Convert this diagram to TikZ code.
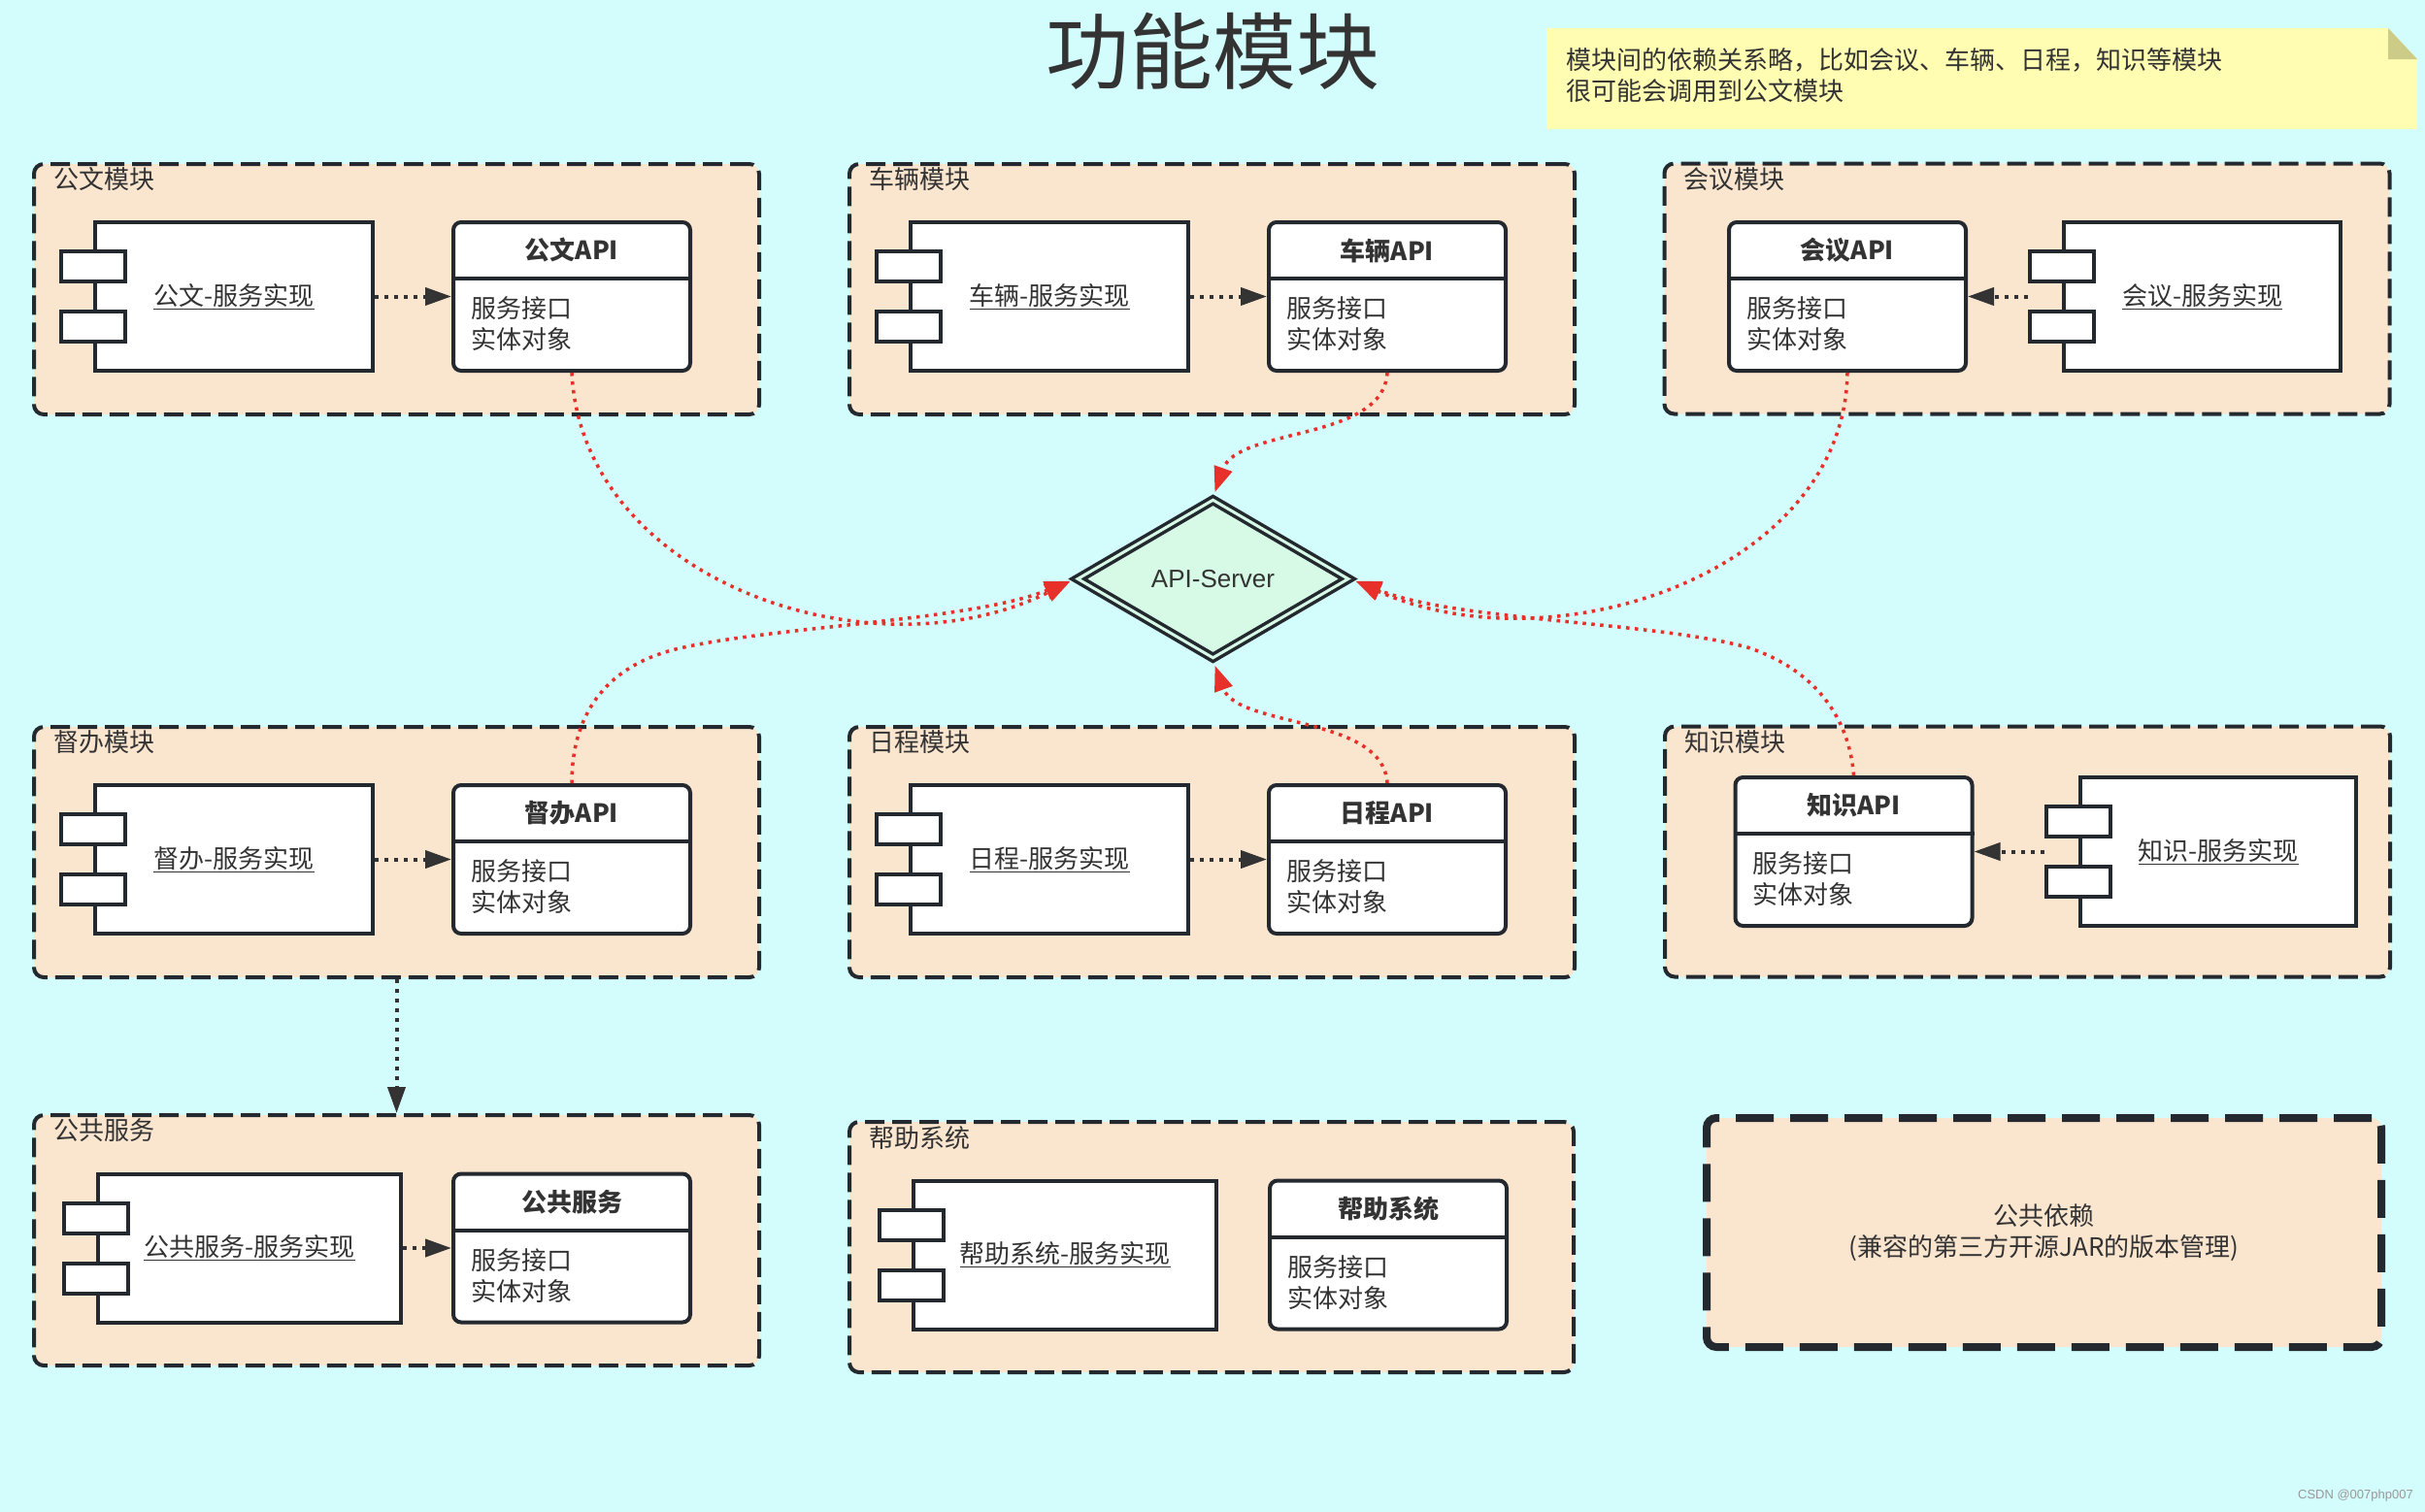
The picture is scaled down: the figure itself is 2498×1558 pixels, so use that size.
\documentclass[tikz,border=0pt]{standalone}
\usepackage{fontspec}
\setmainfont{Noto Sans CJK SC}
\newfontfamily\arialfont{Liberation Sans}
\usepackage{tikz}
\usetikzlibrary{arrows.meta,calc,shapes.geometric}
\usepackage{xcolor}
\definecolor{bgc}{HTML}{D3FCFC}
\definecolor{peach}{HTML}{FAE5CF}
\definecolor{linec}{HTML}{23292F}
\definecolor{txt}{HTML}{333333}
\definecolor{redc}{HTML}{E8302A}
\definecolor{mint}{HTML}{D6FAE6}
\definecolor{notec}{HTML}{FFFDB2}
\definecolor{foldc}{HTML}{CCCB87}
\newcommand{\diagfont}{\fontsize{26pt}{32pt}\selectfont}

\begin{document}
\begin{tikzpicture}[x=1pt,y=1pt,>=Stealth,
  grp/.style={draw=linec, fill=peach, line width=4pt, dash pattern=on 20pt off 8pt, rounded corners=10pt, minimum width=747pt, minimum height=258pt},
  grplabel/.style={anchor=west, inner sep=0pt, font=\diagfont, text=txt},
  comp/.style={draw=linec, fill=white, line width=4pt, minimum width=286pt, minimum height=153pt, font=\diagfont, text=txt},
  port/.style={draw=linec, fill=white, line width=4pt, minimum width=66pt, minimum height=31pt, inner sep=0pt},
  api/.style={draw=linec, fill=white, line width=4pt, rounded corners=8pt, minimum width=244pt, minimum height=153pt},
  dep/.style={draw=txt, line width=4pt, dash pattern=on 4pt off 6pt, -{Triangle[length=27pt,width=18pt]}},
  call/.style={draw=redc, line width=3.5pt, dash pattern=on 3.5pt off 5.5pt, -{Triangle[length=26pt,width=19pt]}, shorten >=6pt}]
  \fill[bgc] (0,0) rectangle (2498,-1558);
  \useasboundingbox (0,0) rectangle (2498,-1558);
  \node[font=\fontsize{86pt}{90pt}\selectfont, text=txt] (title) at (1249,-53) {功能模块};
  % sticky note
  \fill[notec] (1593,-29) -- (2460,-29) -- (2490,-61) -- (2490,-133) -- (1593,-133) -- cycle;
  \fill[foldc] (2460,-29) -- (2490,-61) -- (2460,-61) -- cycle;
  \node[anchor=west, align=left, inner sep=0pt, font=\diagfont, text=txt] (note) at (1613,-78) {模块间的依赖关系略，比如会议、车辆、日程，知识等模块\\很可能会调用到公文模块};

  % modules: component left, API right
  \foreach \k/\ox/\oy/\gname/\cname in {1/35/169/公文模块/公文-服务实现, 2/875/169/车辆模块/车辆-服务实现, 4/35/749/督办模块/督办-服务实现, 5/875/749/日程模块/日程-服务实现} {
    \node[grp] (g\k) at (\ox+373.5,-\oy-129) {};
    \node[grplabel] (l\k) at (\ox+20,-\oy-16) {\gname};
    \node[comp] (c\k) at (\ox+206,-\oy-136.5) {\underline{\cname}};
    \node[api] (a\k) at (\ox+554,-\oy-136.5) {};
  }
  % modules: API left, component right
  \node[grp] (g3) at (2088,-297.5) {};
  \node[grplabel] (l3) at (1734,-185) {会议模块};
  \node[api] (a3) at (1903,-305.5) {};
  \node[comp, minimum width=285pt] (c3) at (2268.5,-305.5) {\underline{会议-服务实现}};
  \node[grp] (g6) at (2088.5,-877.5) {};
  \node[grplabel] (l6) at (1735,-765) {知识模块};
  \node[api] (a6) at (1909.5,-877.5) {};
  \node[comp, minimum width=284pt] (c6) at (2285,-877.5) {\underline{知识-服务实现}};
  % bottom row
  \node[grp] (g7) at (408.5,-1278) {};
  \node[grplabel] (l7) at (55,-1165) {公共服务};
  \node[comp, minimum width=312pt] (c7) at (257,-1286) {\underline{公共服务-服务实现}};
  \node[api] (a7) at (589,-1286) {};
  \node[grp, minimum width=746pt] (g8) at (1248,-1285) {};
  \node[grplabel] (l8) at (895,-1173) {帮助系统};
  \node[comp, minimum width=312pt] (c8) at (1097,-1293) {\underline{帮助系统-服务实现}};
  \node[api] (a8) at (1430,-1293) {};
  \node[draw=linec, fill=peach, line width=8pt, dash pattern=on 39pt off 17pt, rounded corners=10pt, minimum width=695pt, minimum height=236pt, align=center, font=\diagfont, text=txt] (g9) at (2105.5,-1270) {公共依赖\\(兼容的第三方开源JAR的版本管理)};

  % ports and API compartments
  \foreach \k in {1,...,8} {
    \node[port] (pa\k) at ([yshift=31pt]c\k.west) {};
    \node[port] (pb\k) at ([yshift=-31pt]c\k.west) {};
  }
  \foreach \k/\t in {1/公文API, 2/车辆API, 3/会议API, 4/督办API, 5/日程API, 6/知识API, 7/公共服务, 8/帮助系统} {
    \draw[linec, line width=4pt] ([yshift=-60pt]a\k.north west) -- ([yshift=-60pt]a\k.north east);
    \node[font=\diagfont\bfseries, text=txt] (t\k) at ([yshift=-31pt]a\k.north) {\t};
    \node[anchor=west, align=left, inner sep=0pt, font=\diagfont, text=txt] (b\k) at ([shift={(20pt,-107pt)}]a\k.north west) {服务接口\\实体对象};
  }

  % dependencies
  \draw[dep] (c1.east) -- (a1.west);
  \draw[dep] (c2.east) -- (a2.west);
  \draw[dep] (pa3.west |- c3.west) -- (a3.east);
  \draw[dep] (c4.east) -- (a4.west);
  \draw[dep] (c5.east) -- (a5.west);
  \draw[dep] (pa6.west |- c6.west) -- (a6.east);
  \draw[dep] (c7.east) -- (a7.west);
  \draw[dep] (g4.south) -- (g7.north);

  \node[diamond, draw=linec, line width=3.5pt, double=mint, double distance=3pt, fill=mint, minimum width=280pt, minimum height=164pt, inner sep=0pt, font=\arialfont\fontsize{26pt}{30pt}\selectfont, text=txt] (srv) at (1249.5,-596.5) {API-Server};
  \draw[call] (a1.south) .. controls (600,-600) and (900,-700) .. (srv.west);
  \draw[call] (a2.south) .. controls (1425,-455) and (1275,-440) .. (srv.north);
  \draw[call] (a3.south) .. controls (1900,-590) and (1600,-690) .. (srv.east);
  \draw[call] (a4.north) .. controls (589,-730) and (630,-684) .. (700,-668) .. controls (800,-645) and (1000,-640) .. (srv.west);
  \draw[call] (a5.north) .. controls (1425,-737) and (1275,-750) .. (srv.south);
  \draw[call] (a6.north) .. controls (1905,-740) and (1870,-690) .. (1800,-667) .. controls (1700,-640) and (1500,-640) .. (srv.east);

  \node[anchor=east, inner sep=0pt, font=\arialfont\fontsize{13pt}{15pt}\selectfont, text=gray!80] (mark) at (2486,-1541) {CSDN @007php007};
\end{tikzpicture}
\end{document}
